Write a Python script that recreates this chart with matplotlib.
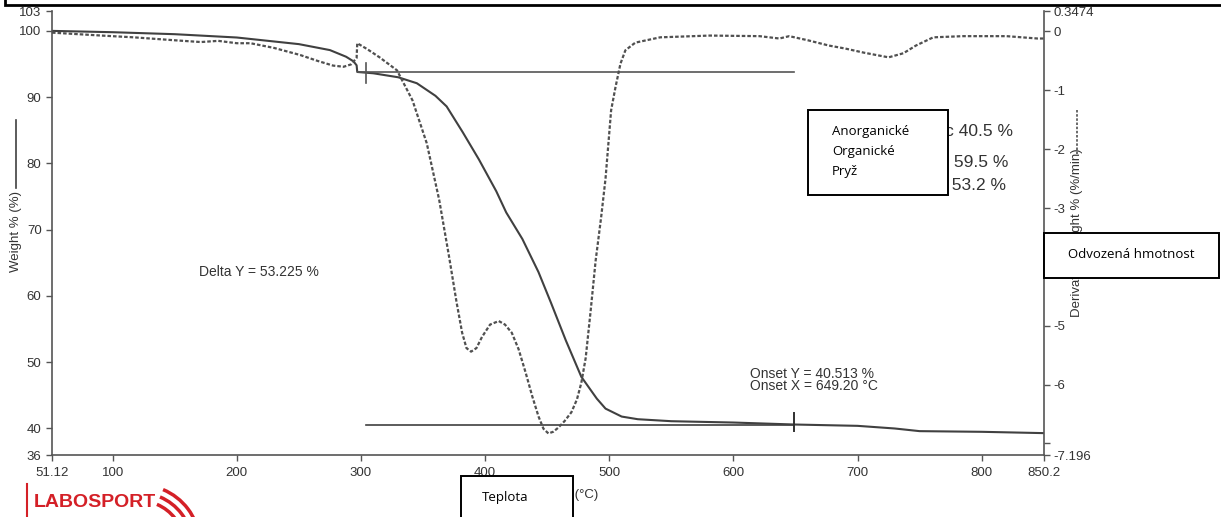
import matplotlib
matplotlib.use('Agg')
import matplotlib.pyplot as plt
from matplotlib.patches import Rectangle, Arc
from matplotlib.lines import Line2D

# weight curve (solid)
temp_w = [51.12, 100, 150, 200, 250, 275, 288, 294, 296.5, 297, 310, 330, 345, 360, 369,
          382, 395, 409, 417, 430, 443, 453, 465, 477.5, 490, 497, 510, 523, 550,
          600, 649.2, 700, 730, 750, 800, 850.2]
weight = [100, 99.8, 99.5, 99.0, 98.0, 97.1, 96.1, 95.4, 94.8, 93.8, 93.6, 93.0, 92.1, 90.2, 88.6,
          84.7, 80.6, 75.8, 72.6, 68.6, 63.6, 59.0, 53.3, 47.8, 44.5, 43.0, 41.8, 41.4, 41.1,
          40.9, 40.6, 40.4, 40.0, 39.6, 39.5, 39.3]

# derivative curve (dashed)
temp_d = [51.12, 91, 117, 150, 171, 185, 200, 211, 230, 251, 265, 277.5, 286, 292, 296.5,
          297, 305, 315, 329, 341.5, 353, 363, 371, 377, 381.5, 385, 388.7, 393, 397.5,
          404, 411, 416, 421.5, 427, 432.7, 438, 443, 447, 451, 455, 459, 464, 469.5,
          474, 477.5, 481, 485, 489, 493.5, 497, 501.5, 505, 509, 513, 521, 541, 581,
          621, 637, 645, 660, 677, 690, 705, 725, 737, 747, 761, 785, 820, 845, 850.2]
deriv = [-0.02, -0.07, -0.1, -0.15, -0.18, -0.16, -0.2, -0.2, -0.28, -0.4, -0.5, -0.58,
         -0.6, -0.56, -0.45, -0.2, -0.3, -0.44, -0.66, -1.17, -1.9, -2.86, -3.83, -4.6,
         -5.12, -5.38, -5.44, -5.38, -5.19, -4.98, -4.92, -4.98, -5.12, -5.4, -5.8, -6.2,
         -6.54, -6.75, -6.83, -6.8, -6.73, -6.62, -6.47, -6.25, -5.97, -5.55, -4.75, -3.9,
         -3.15, -2.5, -1.34, -0.95, -0.55, -0.32, -0.19, -0.1, -0.07, -0.08, -0.12, -0.08,
         -0.15, -0.24, -0.29, -0.36, -0.44, -0.37, -0.24, -0.1, -0.08, -0.08, -0.12, -0.12]

x_ticks = [51.12, 100, 200, 300, 400, 500, 600, 700, 800, 850.2]
x_labels = ['51.12', '100', '200', '300', '400', '500', '600', '700', '800', '850.2']
y_ticks = [36, 40, 50, 60, 70, 80, 90, 100, 103]
d_ticks = [-7.196, -7, -6, -5, -4, -3, -2, -1, 0, 0.3474]
d_labels = ['-7.196', '', '-6', '-5', '-4', '-3', '-2', '-1', '0', '0.3474']

onset_x = 649.2
onset_y = 40.513
upper_y = 93.738
start_upper = 297.5
start_lower = 304

W, H = 1221, 517
fig = plt.figure(figsize=(W / 100, H / 100), dpi=100)
ax = fig.add_axes([52 / W, 1 - 455 / H, (1044 - 52) / W, (455 - 11) / H])
ax2 = ax.twinx()

gray = '#555555'
tcol = '#333333'
font = 'Liberation Sans'

ax.plot(temp_w, weight, color='#404040', lw=1.5)
ax2.plot(temp_d, deriv, color='#505050', lw=1.6, linestyle=(0, (1.6, 0.9)))

# step analysis lines
ax.plot([start_upper, onset_x], [upper_y, upper_y], color=gray, lw=1.2)
ax.plot([start_lower, onset_x], [onset_y, onset_y], color='#404040', lw=1.2)
ax.plot([start_lower, start_lower], [92.2, 95.2], color=gray, lw=1.2)
ax.plot([onset_x, onset_x], [39.6, 42.3], color='#303030', lw=1.4)

ax.set_xlim(51.12, 850.2)
ax.set_ylim(36, 103)
ax2.set_ylim(-7.196, 0.3474)
ax.set_xticks(x_ticks)
ax.set_xticklabels(x_labels)
ax.set_yticks(y_ticks)
ax2.set_yticks(d_ticks)
ax2.set_yticklabels(d_labels)

for a in (ax, ax2):
    for s in a.spines.values():
        s.set_color(gray)
        s.set_linewidth(1.2)
    a.spines['top'].set_visible(False)
    a.tick_params(colors=gray, length=4, width=1, labelcolor=tcol, labelsize=9.5)
    for lab in a.get_xticklabels() + a.get_yticklabels():
        lab.set_family(font)
ax.spines['right'].set_visible(False)
ax2.spines['left'].set_visible(False)
ax2.spines['bottom'].set_visible(False)
ax.tick_params(axis='x', pad=5)
ax2.tick_params(axis='y', pad=3)

ax.text(169.5, 63.6, 'Delta Y = 53.225 %', fontsize=10, family=font, color=tcol,
        ha='left', va='center')
ax.text(613.5, 47.3, 'Onset Y = 40.513 %\nOnset X = 649.20 °C', fontsize=10, family=font,
        color=tcol, ha='left', va='center', linespacing=0.85)


def fx(px):
    return px / W


def fy(py):
    return 1 - py / H


# axis titles
fig.text(fx(16), fy(232), 'Weight % (%)', rotation=90, ha='center', va='center',
         fontsize=9.5, family=font, color=tcol)
fig.add_artist(Line2D([fx(16), fx(16)], [fy(120), fy(188)], color='#404040', lw=1.2))
fig.text(fx(1077), fy(233), 'Derivative Weight % (%/min)', rotation=90, ha='center',
         va='center', fontsize=9.5, family=font, color=tcol)
fig.add_artist(Line2D([fx(1077), fx(1077)], [fy(110), fy(154)], color='#505050', lw=1.2,
                      linestyle=(0, (1.5, 1))))
fig.text(fx(598), fy(495), 'Temperature (°C)', ha='right', va='center', fontsize=9.5,
         family=font, color=tcol)

# summary values (mostly hidden under the overlay box)
fig.text(fx(1013), fy(132), 'Inorganic 40.5 %', ha='right', va='center', fontsize=12.5,
         family=font, color=tcol)
fig.text(fx(1008), fy(162), 'Organic 59.5 %', ha='right', va='center', fontsize=12.5,
         family=font, color=tcol)
fig.text(fx(1006), fy(186), 'Rubber 53.2 %', ha='right', va='center', fontsize=12.5,
         family=font, color=tcol)

# overlay boxes
boxfont = 'Open Sans'


def box(x0, y0, x1, y1, lw=1.4):
    fig.add_artist(Rectangle((fx(x0), fy(y1)), fx(x1) - fx(x0), fy(y0) - fy(y1),
                             transform=fig.transFigure, facecolor='white',
                             edgecolor='black', lw=lw, zorder=10))


box(5, -20, 1240, 5, lw=2)
box(808, 110, 948, 195)
fig.text(fx(832), fy(132), 'Anorganické', fontsize=9.5, family=boxfont, va='center', zorder=11)
fig.text(fx(832), fy(152), 'Organické', fontsize=9.5, family=boxfont, va='center', zorder=11)
fig.text(fx(832), fy(172), 'Pryž', fontsize=9.5, family=boxfont, va='center', zorder=11)
box(1044, 233, 1219, 278)
fig.text(fx(1131), fy(255), 'Odvozená hmotnost', fontsize=9.5, family=boxfont,
         ha='center', va='center', zorder=11)
box(461, 476, 573, 540)
fig.text(fx(482), fy(497), 'Teplota', fontsize=9.5, family=boxfont, va='center', zorder=11)

# logo (cut off at the bottom edge)
red = '#d42027'
fig.add_artist(Line2D([fx(27), fx(27)], [fy(484), fy(517)], color=red, lw=1.5))
fig.text(fx(34), fy(494), 'LABOSPORT', fontsize=14, family=font,
         weight='bold', color=red, ha='left', va='top')
for r in [44, 52, 60]:
    fig.add_artist(Arc((fx(140), fy(545)), 2 * r / W, 2 * r / H, theta1=15, theta2=80,
                       transform=fig.transFigure, color=red, lw=2.5))

fig.savefig('out.png', dpi=100)
